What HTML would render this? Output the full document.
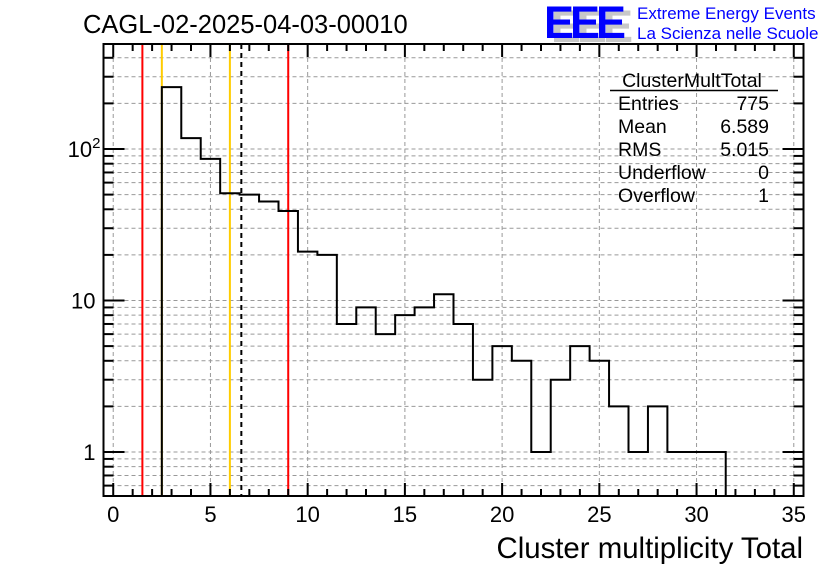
<!DOCTYPE html>
<html><head><meta charset="utf-8"><style>
body{margin:0;background:#fff;}
svg{display:block;font-family:"Liberation Sans",sans-serif;}
</style></head><body>
<svg id="chart" width="836" height="572" viewBox="0 0 836 572" xmlns="http://www.w3.org/2000/svg">
<rect x="0" y="0" width="836" height="572" fill="#fff"/>
<g id="grid"></g>
<g id="vlines"></g>
<g id="hist"></g>
<g id="axes"></g>
<text x="83" y="33" font-size="25.5">CAGL-02-2025-04-03-00010</text>
<text x="803" y="558" font-size="29.4" text-anchor="end">Cluster multiplicity Total</text>
<g>
<text x="551" y="42" font-size="45" font-weight="bold" fill="#c8c8c8" letter-spacing="-4">EEE</text>
<text x="544" y="38" font-size="45" font-weight="bold" fill="#0000ff" letter-spacing="-4">EEE</text>
<text x="637" y="19" font-size="17" fill="#0000ff">Extreme Energy Events</text>
<text x="637" y="39" font-size="17" fill="#0000ff">La Scienza nelle Scuole</text>
</g>
<g font-size="19.5">
<text x="692" y="87" text-anchor="middle">ClusterMultTotal</text>
<line x1="610" y1="90.5" x2="778" y2="90.5" stroke="#000" stroke-width="1.5"/>
<text x="618" y="110">Entries</text><text x="769" y="110" text-anchor="end">775</text>
<text x="618" y="133">Mean</text><text x="769" y="133" text-anchor="end">6.589</text>
<text x="618" y="156">RMS</text><text x="769" y="156" text-anchor="end">5.015</text>
<text x="618" y="179">Underflow</text><text x="769" y="179" text-anchor="end">0</text>
<text x="618" y="202">Overflow</text><text x="769" y="202" text-anchor="end">1</text>
</g>
</svg>
<script>
const binCenters = [3,4,5,6,7,8,9,10,11,12,13,14,15,16,17,18,19,20,21,22,23,24,25,26,27,28,29,30,31];
const binCounts  = [256,118,86,51,50,45,39,21,20,7,9,6,8,9,11,7,3,5,4,1,3,5,4,2,1,2,1,1,1];
const xTicks = [0,5,10,15,20,25,30,35];
const yDecades = [1,10,100];
const yDecadeLabels = ["1","10","10²"];
const redLines = [1.5,9];
const yellowLines = [2.5,6];
const meanLine = [6.589];

const L=103.5,R=803.5,T=44,B=496;
const X0=-0.5,X1=35.5;
const sx=v=>L+(v-X0)/(X1-X0)*(R-L);
const sy=v=>452-Math.log10(v)*151.5;
const NS="http://www.w3.org/2000/svg";
function mk(tag,attrs,parent){const e=document.createElementNS(NS,tag);for(const k in attrs)e.setAttribute(k,attrs[k]);parent.appendChild(e);return e;}
const grid=document.getElementById('grid'),axes=document.getElementById('axes'),hist=document.getElementById('hist'),vl=document.getElementById('vlines');

xTicks.forEach(t=>{const l=mk('line',{x1:sx(t),x2:sx(t),y1:T,y2:B,stroke:'#999','stroke-dasharray':'4,3','stroke-width':1},grid);

});
[0.1,1,10,100].forEach(d=>{for(let m=1;m<=9;m++){const v=d*m;const y=sy(v);if(y<T+1||y>B-1)continue;
const l=mk('line',{x1:L,x2:R,y1:y,y2:y,stroke:'#999','stroke-dasharray':'4,3','stroke-width':1},grid);


const big=(m===1);
const tl=mk('line',{x1:L,x2:L+(big?21:10),y1:y,y2:y,stroke:'#000','stroke-width':2},axes);


const tr=mk('line',{x1:R,x2:R-(big?21:10),y1:y,y2:y,stroke:'#000','stroke-width':2},axes);

}});

redLines.forEach(v=>{const l=mk('line',{x1:sx(v),x2:sx(v),y1:T,y2:B,stroke:'#ff0000','stroke-width':2},vl);

});
yellowLines.forEach(v=>{const l=mk('line',{x1:sx(v),x2:sx(v),y1:T,y2:B,stroke:'#ffcc00','stroke-width':2},vl);

});
meanLine.forEach(v=>{const l=mk('line',{x1:sx(v),x2:sx(v),y1:T,y2:B,stroke:'#000','stroke-width':2,'stroke-dasharray':'5,4'},vl);

});

let d='';
binCenters.forEach((c,i)=>{const x0=sx(c-0.5),x1=sx(c+0.5),y=sy(binCounts[i]);
if(i===0)d+=`M${x0},${B}L${x0},${y}`;else d+=`L${x0},${y}`;d+=`L${x1},${y}`;
if(i===binCenters.length-1)d+=`L${x1},${B}`;});
const p=mk('path',{d:d,fill:'none',stroke:'#000','stroke-width':2},hist);



const f=mk('rect',{x:L,y:T,width:R-L,height:B-T,fill:'none',stroke:'#000','stroke-width':2},axes);


for(let t=0;t<=35;t++){const big=t%5===0,x=sx(t),len=big?13:7;
const a=mk('line',{x1:x,x2:x,y1:B,y2:B-len,stroke:'#000','stroke-width':2},axes);


const b=mk('line',{x1:x,x2:x,y1:T,y2:T+len,stroke:'#000','stroke-width':2},axes);

}
xTicks.forEach(t=>{const tx=mk('text',{x:sx(t),y:522,'font-size':22,'text-anchor':'middle'},axes);tx.textContent=t;

});
yDecades.forEach((v,i)=>{const tx=mk('text',{x:L-8,y:sy(v)+8,'font-size':22,'text-anchor':'end'},axes);


if(yDecadeLabels[i]==="10²"){tx.textContent='10';const s=mk('tspan',{dy:-9,'font-size':15},tx);s.textContent='2';tx.setAttribute('x',L-3);}
else tx.textContent=yDecadeLabels[i];});
</script>
</body></html>
